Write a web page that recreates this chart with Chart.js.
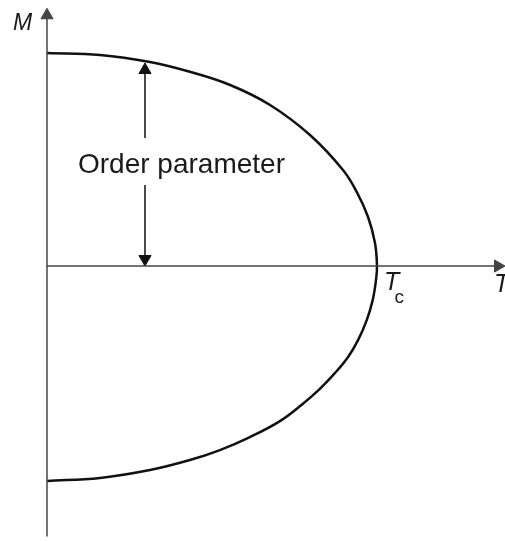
<!DOCTYPE html>
<html>
<head>
<meta charset="utf-8">
<script src="https://cdn.jsdelivr.net/npm/chart.js@4/dist/chart.umd.min.js"></script>
<style>
  html, body { margin: 0; padding: 0; background: #fff; }
  #wrap { width: 505px; height: 541px; }
</style>
</head>
<body>
<div id="wrap"><canvas id="phase" width="505" height="541"></canvas></div>
<script>
// Upper branch of the order parameter, T in units of Tc, M in units of M(0)
const tempTop = [0, 0.161, 0.312, 0.433, 0.555, 0.676, 0.797, 0.897, 0.939, 0.973, 0.994, 1.0];
const magTop  = [1.0, 0.991, 0.958, 0.912, 0.850, 0.756, 0.615, 0.451, 0.347, 0.230, 0.108, 0];

// Lower branch, going back from Tc to T = 0
const tempBottom = [0.997, 0.987, 0.969, 0.943, 0.913, 0.873, 0.827, 0.773, 0.706, 0.615, 0.524, 0.433, 0.312, 0.161, 0];
const magBottom  = [-0.066, -0.160, -0.254, -0.347, -0.426, -0.502, -0.577, -0.650, -0.728, -0.803, -0.864, -0.911, -0.958, -0.995, -1.009];

// Axis extents
const tAxisEnd = 1.388;
const mAxisTop = 1.21;
const mAxisBottom = -1.27;

// Double arrow for the order parameter, placed at this T
const arrowT = 0.297;
const arrowUpper = [0.953, 0.601];
const arrowLower = [0.380, 0];

// Labels drawn on the plot
const labels = [
    { text: 'M', t: -0.103, m: 1.108, font: 'italic 23px "Liberation Sans", Arial' },
    { text: 'Order parameter', t: 0.094, m: 0.437, font: '28px "Liberation Sans", Arial' },
    { text: 'T', t: 1.021, m: -0.113, font: 'italic 25px "Liberation Sans", Arial' },
    { text: 'c', t: 1.053, m: -0.172, font: '19px "Liberation Sans", Arial' },
    { text: 'T', t: 1.355, m: -0.122, font: 'italic 25px "Liberation Sans", Arial' },
];

const curve = tempTop.map((t, i) => ({ x: t, y: magTop[i] }))
    .concat(tempBottom.map((t, i) => ({ x: t, y: magBottom[i] })));

const axisColor = '#444';
const ink = '#111';

// arrow tip: the triangle point is centred, so pull it back by its radius
const tipR = 7;
const pxT = 1.530 / 505;  // T units per pixel
const pxM = 2.54 / 541;   // M units per pixel

const labelPlugin = {
    id: 'labels',
    afterDatasetsDraw(chart) {
        const { ctx, scales } = chart;
        ctx.save();
        ctx.fillStyle = '#1a1a1a';
        ctx.textBaseline = 'alphabetic';
        ctx.textAlign = 'left';
        labels.forEach(l => {
            ctx.font = l.font;
            ctx.fillText(l.text, scales.x.getPixelForValue(l.t), scales.y.getPixelForValue(l.m));
        });
        ctx.restore();
    }
};

function segment(points, color, width, arrowAt) {
    return {
        data: points,
        showLine: true,
        borderColor: color,
        backgroundColor: color,
        borderWidth: width,
        tension: 0,
        pointStyle: 'triangle',
        pointRadius: points.map((p, i) => arrowAt.includes(i) ? tipR : 0),
        pointRotation: points.map(p => p.rot || 0),
        pointBorderWidth: 1,
    };
}

new Chart(document.getElementById('phase'), {
    type: 'scatter',
    data: {
        datasets: [
            // M axis
            segment([{ x: 0, y: mAxisBottom }, { x: 0, y: mAxisTop - tipR * pxM }], axisColor, 1.5, [1]),
            // T axis
            segment([{ x: 0, y: 0 }, { x: tAxisEnd - tipR * pxT, y: 0, rot: 90 }], axisColor, 1.5, [1]),
            // order parameter arrow
            segment([{ x: arrowT, y: arrowUpper[0] - tipR * pxM }, { x: arrowT, y: arrowUpper[1] }], ink, 1.5, [0]),
            segment([{ x: arrowT, y: arrowLower[0] }, { x: arrowT, y: arrowLower[1] + tipR * pxM, rot: 180 }], ink, 1.5, [1]),
            // M(T) curve
            {
                data: curve,
                showLine: true,
                borderColor: ink,
                borderWidth: 2.5,
                tension: 0.4,
                pointRadius: 0,
            },
        ]
    },
    options: {
        responsive: false,
        animation: false,
        layout: { padding: 0, autoPadding: false },
        plugins: {
            legend: { display: false },
            tooltip: { enabled: false },
        },
        scales: {
            x: { type: 'linear', min: -0.1424, max: 1.388, display: false },
            y: { type: 'linear', min: -1.291, max: 1.249, display: false },
        }
    },
    plugins: [labelPlugin]
});
</script>
</body>
</html>
